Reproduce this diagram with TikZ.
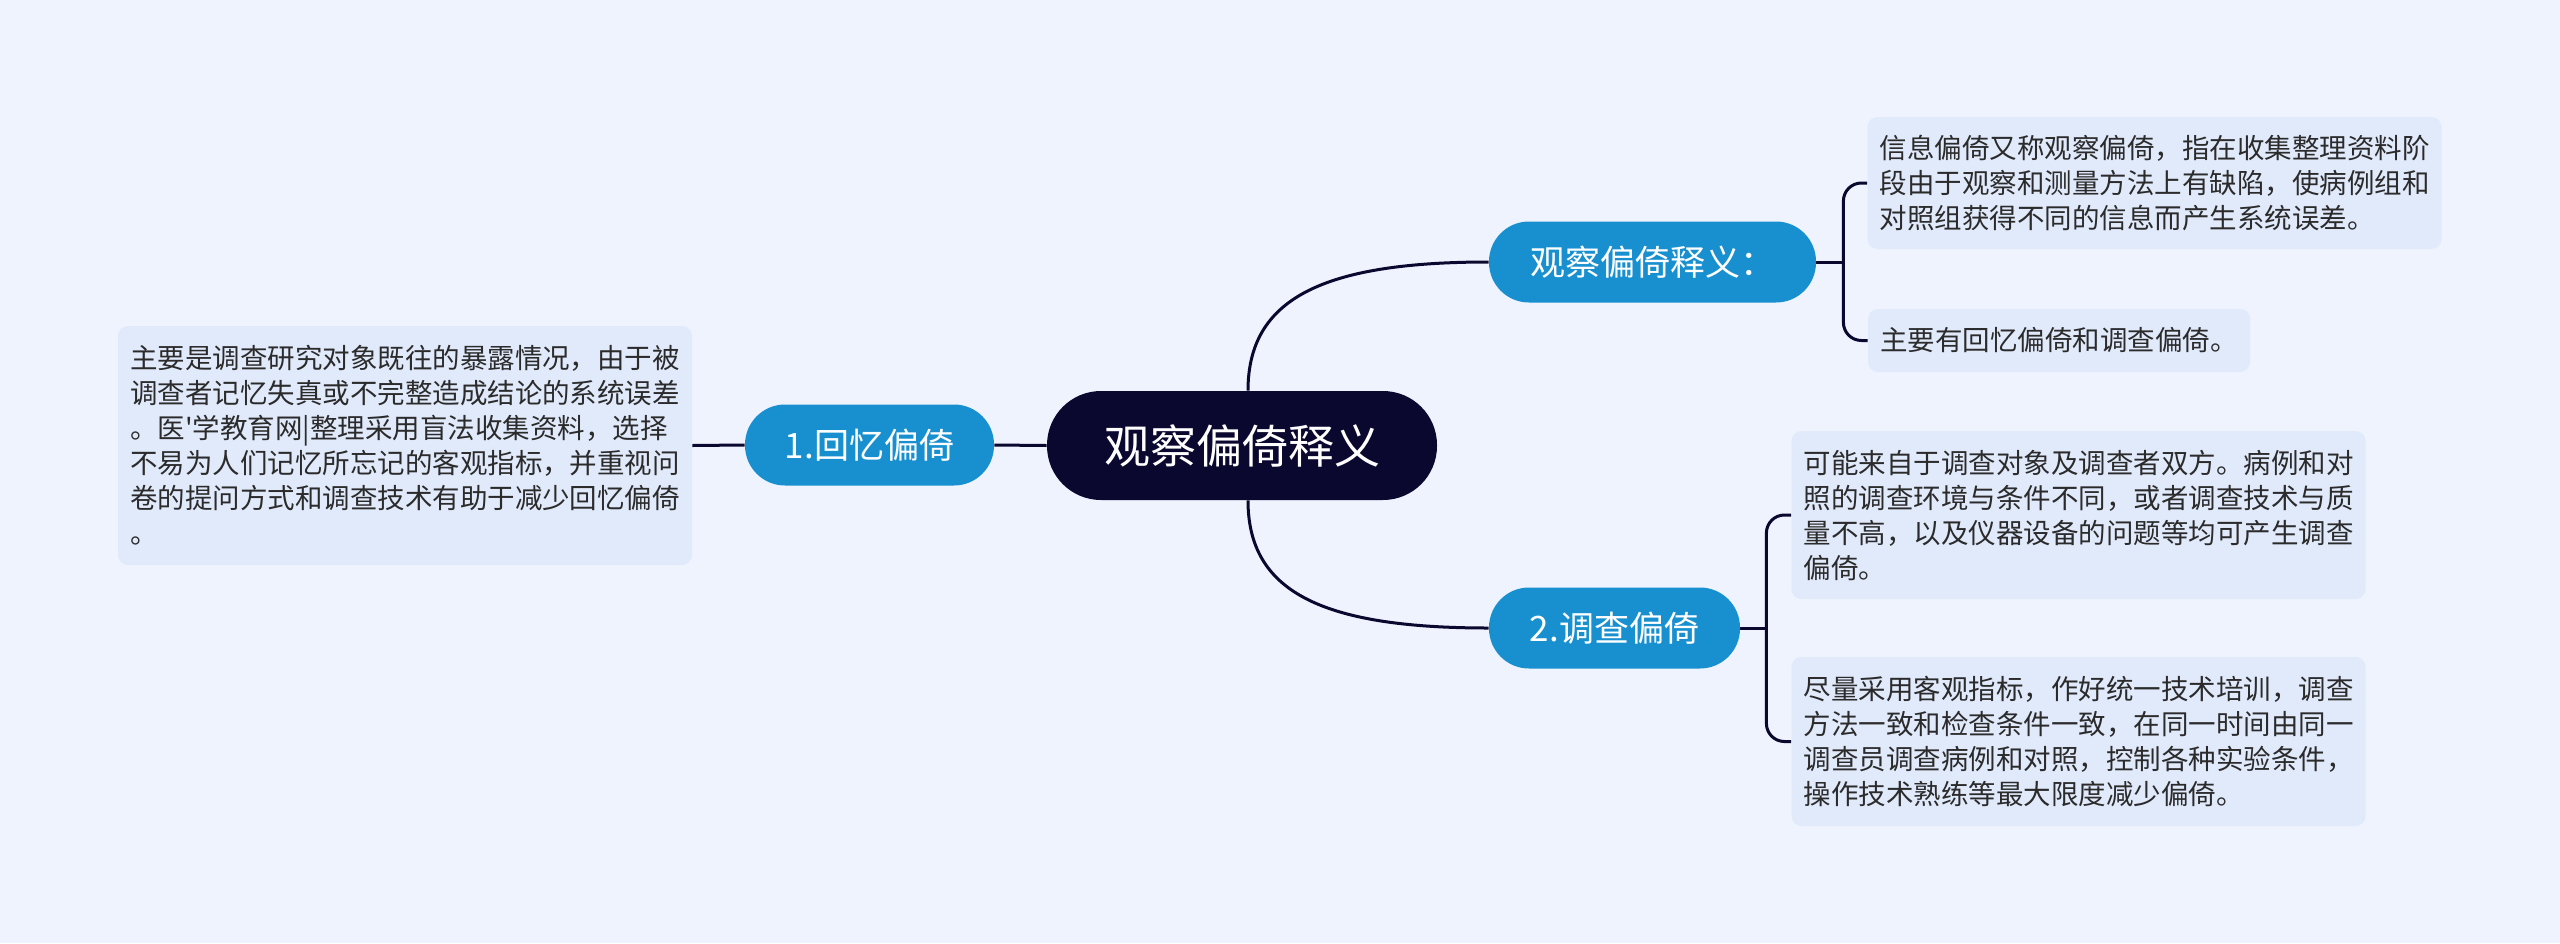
\documentclass[tikz,border=0pt]{standalone}
\usepackage{fontspec}
\setmainfont{Noto Sans CJK SC}[Ligatures=TeXOff]
\definecolor{bgc}{HTML}{EEF3FD}
\definecolor{boxc}{HTML}{E1EAFB}
\definecolor{bluec}{HTML}{1890D0}
\definecolor{darkc}{HTML}{0B0830}
\definecolor{txtc}{HTML}{2B2B2B}
\tikzset{
  mainnode/.style={fill=darkc, text=white, rounded corners=27pt, minimum width=195pt, minimum height=54.5pt, inner sep=0pt, font=\fontsize{23pt}{27pt}\selectfont},
  bluenode/.style={fill=bluec, text=white, rounded corners=20pt, minimum height=40.5pt, inner sep=0pt, font=\fontsize{17.5pt}{21pt}\selectfont},
  textbox/.style={fill=boxc, text=txtc, rounded corners=5pt, align=left, inner xsep=6pt, inner ysep=0pt, font=\fontsize{13.75pt}{17.5pt}\selectfont},
  link/.style={draw=darkc, line width=1.5pt},
}
\begin{document}
\begin{tikzpicture}[x=0.5pt,y=-0.5pt]
\fill[bgc] (0,0) rectangle (2560,943);
\useasboundingbox (0,0) rectangle (2560,943);

\node[mainnode] (main) at (1242,445.5) {观察偏倚释义};
\node[bluenode, minimum width=124.5pt] (n1) at (869.5,445) {1.回忆偏倚};
\node[bluenode, minimum width=163.5pt] (n2) at (1652.5,262) {观察偏倚释义：};
\node[bluenode, minimum width=125.5pt] (n3) at (1614.5,628) {2.调查偏倚};

\node[textbox, minimum width=287pt, minimum height=119.5pt] (L) at (405,445.5) {主要是调查研究对象既往的暴露情况，由于被\\调查者记忆失真或不完整造成结论的系统误差\\。医'学教育网|整理采用盲法收集资料，选择\\不易为人们记忆所忘记的客观指标，并重视问\\卷的提问方式和调查技术有助于减少回忆偏倚\\。};
\node[textbox, minimum width=286.5pt, minimum height=66pt] (t1) at (2154.5,183) {信息偏倚又称观察偏倚，指在收集整理资料阶\\段由于观察和测量方法上有缺陷，使病例组和\\对照组获得不同的信息而产生系统误差。};
\node[textbox, minimum width=191pt, minimum height=31.5pt] (t2) at (2059,340.5) {主要有回忆偏倚和调查偏倚。};
\node[textbox, minimum width=286.5pt, minimum height=84pt] (b1) at (2078.5,515) {可能来自于调查对象及调查者双方。病例和对\\照的调查环境与条件不同，或者调查技术与质\\量不高，以及仪器设备的问题等均可产生调查\\偏倚。};
\node[textbox, minimum width=286.5pt, minimum height=84.5pt] (b2) at (2078.5,741.5) {尽量采用客观指标，作好统一技术培训，调查\\方法一致和检查条件一致，在同一时间由同一\\调查员调查病例和对照，控制各种实验条件，\\操作技术熟练等最大限度减少偏倚。};

% connectors
\draw[link] (L.east) -- (n1.west);
\draw[link] (n1.east) -- (main.west);
\draw[link] ([xshift=3pt]main.north) .. controls (1248,300) and (1320,262) .. (n2.west);
\draw[link] ([xshift=3pt]main.south) .. controls (1248,591) and (1320,628) .. (n3.west);

\draw[link] (n2.east) -- ++(13.5pt,0) coordinate (j1);
\draw[link, rounded corners=9pt] (j1) |- (t1.west);
\draw[link, rounded corners=9pt] (j1) |- (t2.west);

\draw[link] (n3.east) -- ++(13pt,0) coordinate (j2);
\draw[link, rounded corners=9pt] (j2) |- (b1.west);
\draw[link, rounded corners=9pt] (j2) |- (b2.west);
\end{tikzpicture}
\end{document}
